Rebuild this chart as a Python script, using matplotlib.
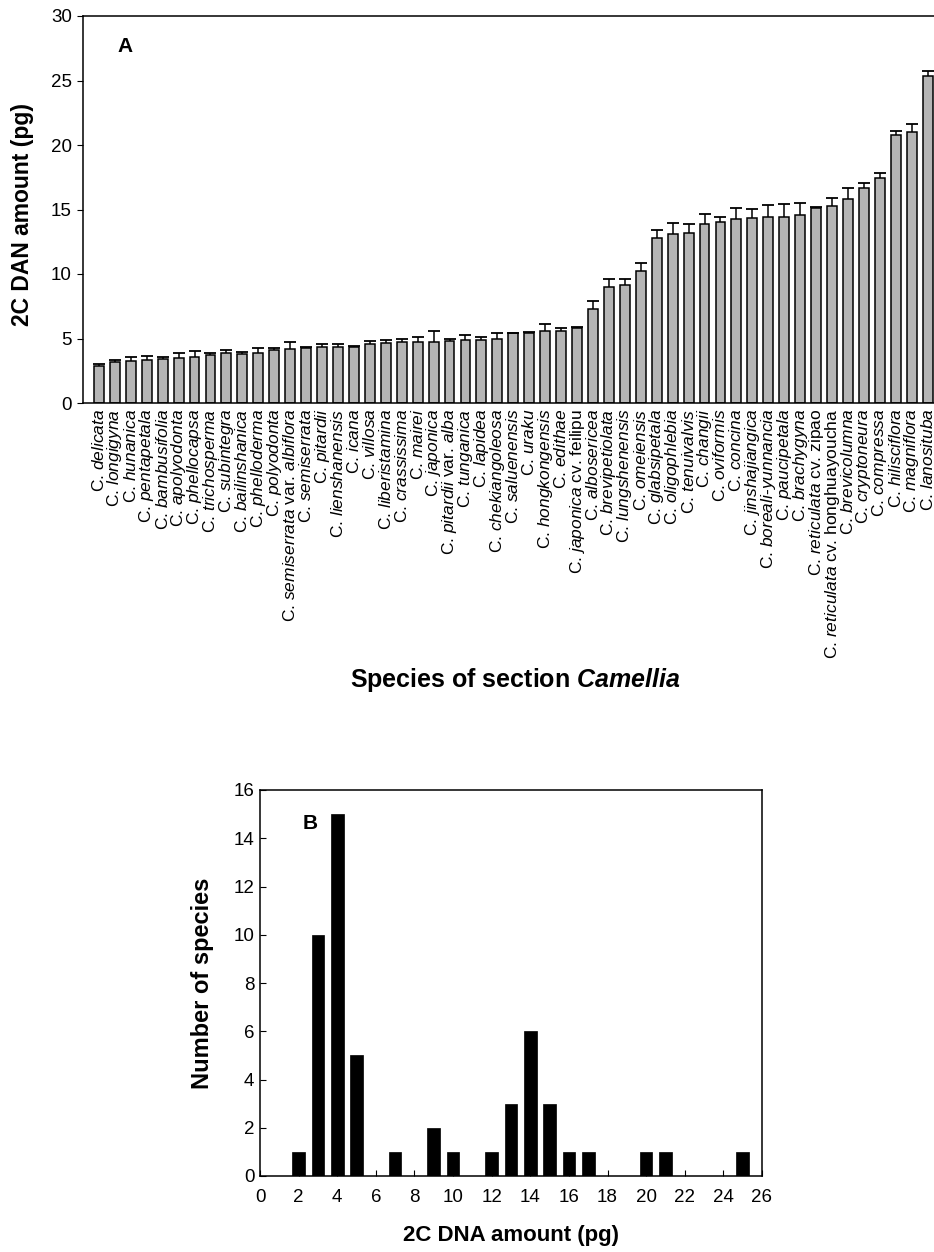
import numpy as np
import matplotlib
matplotlib.use('Agg')
import matplotlib.pyplot as plt

plt.rcParams['font.family'] = ['Liberation Sans', 'DejaVu Sans']
plt.rcParams['mathtext.fontset'] = 'custom'
plt.rcParams['mathtext.rm'] = 'Liberation Sans'
plt.rcParams['mathtext.it'] = 'Liberation Sans:italic'
plt.rcParams['mathtext.bf'] = 'Liberation Sans:bold'
plt.rcParams['mathtext.bfit'] = 'Liberation Sans:bold:italic'

# panel A: 2C DNA amount per species
species = ['delicata', 'longigyna', 'hunanica', 'pentapetala', 'bambusifolia',
           'apolyodonta', 'phellocapsa', 'trichosperma', 'subintegra', 'bailinshanica',
           'phelloderma', 'polyodonta', 'semiserrata var. albiflora', 'semiserrata',
           'pitardii', 'lienshanensis', 'icana', 'villosa', 'liberistamina',
           'crassissima', 'mairei', 'japonica', 'pitardii var. alba', 'tunganica',
           'lapidea', 'chekiangoleosa', 'saluenensis', 'uraku', 'hongkongensis',
           'edithae', 'japonica cv. feilipu', 'albosericea', 'brevipetiolata',
           'lungshenensis', 'omeiensis', 'glabsipetala', 'oligophlebia', 'tenuivalvis',
           'changii', 'oviformis', 'concina', 'jinshajiangica', 'boreali-yunnancia',
           'paucipetala', 'brachygyna', 'reticulata cv. zipao',
           'reticulata cv. honghuayoucha', 'brevicolumna', 'cryptoneura', 'compressa',
           'hilisciflora', 'magniflora', 'lanosituba']

amount = [2.9, 3.2, 3.25, 3.35, 3.4, 3.5, 3.55, 3.7, 3.85, 3.82,
          3.9, 4.1, 4.2, 4.3, 4.35, 4.33, 4.37, 4.6, 4.63, 4.7,
          4.7, 4.75, 4.8, 4.87, 4.85, 4.95, 5.4, 5.45, 5.6, 5.6,
          5.8, 7.3, 9.03, 9.15, 10.24, 12.8, 13.08, 13.15, 13.88, 14.05,
          14.3, 14.35, 14.45, 14.45, 14.55, 15.1, 15.3, 15.8, 16.7, 17.45,
          20.76, 21.0, 25.33]

sd = [0.15, 0.15, 0.3, 0.3, 0.2, 0.4, 0.45, 0.2, 0.25, 0.15,
      0.4, 0.2, 0.5, 0.05, 0.25, 0.22, 0.05, 0.2, 0.25, 0.3,
      0.4, 0.85, 0.2, 0.37, 0.25, 0.5, 0.05, 0.05, 0.55, 0.2,
      0.07, 0.6, 0.6, 0.45, 0.65, 0.6, 0.9, 0.7, 0.75, 0.4,
      0.8, 0.72, 0.9, 0.98, 0.95, 0.08, 0.56, 0.85, 0.36, 0.38,
      0.34, 0.6, 0.44]

# panel B: histogram of species counts
dna_bins = [2, 3, 4, 5, 7, 9, 10, 12, 13, 14, 15, 16, 17, 20, 21, 25]
n_species = [1, 10, 15, 5, 1, 2, 1, 1, 3, 6, 3, 1, 1, 1, 1, 1]


def fmt(name):
    # italic epithets, upright "var."/"cv." and cultivar names
    parts = []
    upright = False
    for w in name.split(' '):
        if w in ('var.', 'cv.'):
            parts.append(w)
            upright = (w == 'cv.')
        elif upright:
            parts.append(w)
        else:
            w = '}$-$\\mathit{'.join(w.split('-'))
            parts.append('$\\mathit{' + w + '}$')
    return 'C. ' + ' '.join(parts)


fig = plt.figure(figsize=(9.34, 12.52), dpi=100)

# ---- panel A ----
ax = fig.add_axes([83 / 934, 1 - 403 / 1252, 851 / 934, 387 / 1252])
x = np.arange(len(species))
vals = np.array(amount)
err = np.array(sd)
ax.bar(x, vals, width=0.62, color='#b5b5b5', edgecolor='black', linewidth=1.1, zorder=2)
ax.vlines(x, vals, vals + err, color='black', linewidth=1.1, zorder=3)
ax.plot(x, vals + err, ls='none', marker='_', ms=9, mew=1.3, color='black', zorder=3)

ax.set_xlim(-1.0, 52.4)
ax.set_ylim(0, 30)
ax.set_yticks(np.arange(0, 31, 5))
ax.set_xticks(x)
ax.set_xticklabels([fmt(s) for s in species], rotation=90, fontsize=12.5)
ax.tick_params(axis='x', length=0, pad=4)
ax.tick_params(axis='y', direction='out', length=4, labelsize=13.5, pad=4)
ax.spines['right'].set_visible(False)
for s in ['left', 'top', 'bottom']:
    ax.spines[s].set_linewidth(1.1)
ax.text(0.041, 0.922, 'A', transform=ax.transAxes, fontsize=15, fontweight='bold',
        va='center', ha='left')

fig.text(23 / 934, 1 - 215 / 1252, '2C DAN amount (pg)', rotation=90, fontsize=16.5,
         fontweight='bold', ha='center', va='center')
fig.text(515 / 934, 1 - 680 / 1252, r'Species of section $\mathbfit{Camellia}$',
         fontsize=18, fontweight='bold', ha='center', va='center')

# ---- panel B ----
bx = fig.add_axes([260 / 934, 1 - 1176 / 1252, 502 / 934, 386 / 1252])
bx.bar(dna_bins, n_species, width=0.65, color='black', edgecolor='black', linewidth=0.5)
bx.set_xlim(0, 26)
bx.set_ylim(0, 16)
bx.set_xticks(np.arange(0, 27, 2))
bx.set_yticks(np.arange(0, 17, 2))
bx.tick_params(direction='in', length=4, labelsize=13.5)
bx.tick_params(axis='x', pad=9)
bx.tick_params(axis='y', pad=4)
for s in bx.spines.values():
    s.set_linewidth(1.1)
bx.text(0.084, 0.912, 'B', transform=bx.transAxes, fontsize=15, fontweight='bold',
        va='center', ha='left')

fig.text(203 / 934, 1 - 983 / 1252, 'Number of species', rotation=90, fontsize=17,
         fontweight='bold', ha='center', va='center')
fig.text(511 / 934, 1 - 1236 / 1252, '2C DNA amount (pg)', fontsize=16,
         fontweight='bold', ha='center', va='center')

fig.savefig('out.png', dpi=100)
